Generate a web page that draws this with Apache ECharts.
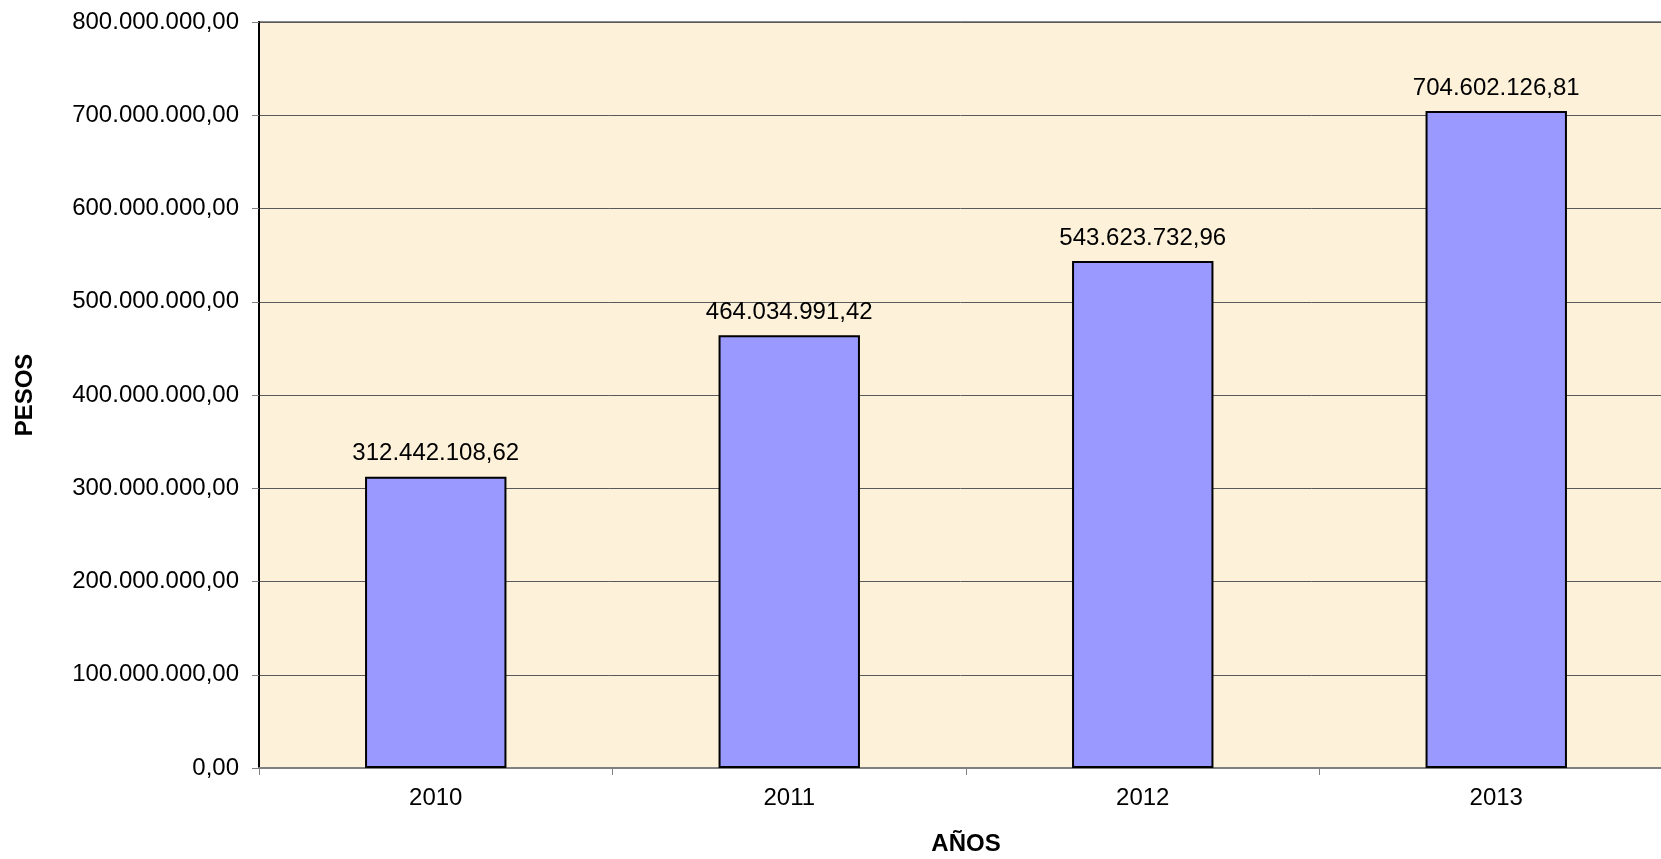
<!DOCTYPE html>
<html>
<head>
<meta charset="utf-8">
<script src="https://cdn.jsdelivr.net/npm/echarts@6/dist/echarts.min.js"></script>
<style>
    html, body { margin: 0; padding: 0; background: #fff; }
    #chart { width: 1661px; height: 859px; }
</style>
</head>
<body>
<div id="chart"></div>
<script>
const years = ['2010', '2011', '2012', '2013'];
const pesos = [312442108.62, 464034991.42, 543623732.96, 704602126.81];

const FONT = '"Liberation Sans", Arial, sans-serif';

// 1234567,8 -> "1.234.567,80"
function formatPesos(value) {
    const [intPart, decPart] = Number(value).toFixed(2).split('.');
    return intPart.replace(/\B(?=(\d{3})+(?!\d))/g, '.') + ',' + decPart;
}

const chart = echarts.init(document.getElementById('chart'));

chart.setOption({
    animation: false,
    backgroundColor: '#ffffff',
    grid: {
        left: 259,
        right: -12,
        top: 22,
        bottom: 91,
        outerBoundsMode: 'none',
        containLabel: false,
        show: true,
        backgroundColor: '#FDF1DA',
        borderColor: '#8a8a8a',
        borderWidth: 2
    },
    xAxis: {
        type: 'category',
        data: years,
        name: 'AÑOS',
        nameLocation: 'middle',
        nameGap: 64,
        nameTextStyle: { fontFamily: FONT, fontSize: 24, fontWeight: 'bold', color: '#000' },
        axisLine: { lineStyle: { color: '#808080', width: 2 } },
        axisTick: { show: true, length: 7, lineStyle: { color: '#808080' } },
        axisLabel: { fontFamily: FONT, fontSize: 24, color: '#000', margin: 18 }
    },
    yAxis: {
        type: 'value',
        min: 0,
        max: 800000000,
        interval: 100000000,
        name: 'PESOS',
        nameLocation: 'middle',
        nameGap: 222,
        nameRotate: 90,
        nameTextStyle: { fontFamily: FONT, fontSize: 24, fontWeight: 'bold', color: '#000' },
        axisLine: { show: true, lineStyle: { color: '#000', width: 2 } },
        axisTick: { show: true, length: 7, lineStyle: { color: '#808080' } },
        axisLabel: {
            fontFamily: FONT,
            fontSize: 24,
            color: '#000',
            margin: 20,
            formatter: formatPesos
        },
        splitLine: { show: true, lineStyle: { color: '#5a5a5a', width: 1 } }
    },
    series: [
        {
            type: 'bar',
            data: pesos,
            barWidth: '40%',
            itemStyle: {
                color: '#9999FF',
                borderColor: '#000',
                borderWidth: 2
            },
            label: {
                show: true,
                position: 'top',
                distance: 11,
                fontFamily: FONT,
                fontSize: 24,
                color: '#000',
                formatter: p => formatPesos(p.value)
            }
        }
    ]
});
</script>
</body>
</html>
